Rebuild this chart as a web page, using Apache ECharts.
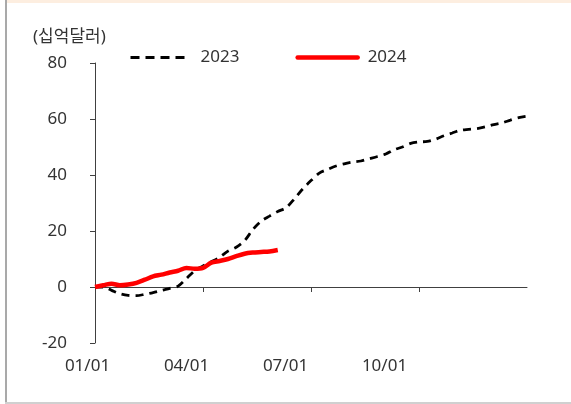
<!DOCTYPE html>
<html>
<head>
<meta charset="utf-8">
<script src="https://cdn.jsdelivr.net/npm/echarts@6/dist/echarts.min.js"></script>
<style>html,body{margin:0;padding:0;background:#fff}#c{width:571px;height:404px}</style>
</head>
<body>
<div id="c"></div>
<script>
// Week index (0..52) from 01/01
var tickWeeks = [0, 13, 26, 39];
var tickLabels = ['01/01', '04/01', '07/01', '10/01'];
var yTicks = [-20, 0, 20, 40, 60, 80];
var unitLabel = '(십억달러)';
var seriesNames = ['2023', '2024'];

var values2023 = [0, 0, -1.2, -2.4, -3.0, -3.1, -2.6, -2.0, -1.2, -0.5, 0.3, 3.0, 5.8, 7.5, 9.0, 10.6, 12.8, 14.2, 16.5, 20.5, 23.5, 25.3, 27.0, 28.3, 31.5, 35.0, 38.0, 40.7, 42.0, 43.2, 44.0, 44.6, 45.0, 45.8, 46.6, 47.5, 49.0, 50.0, 51.3, 51.8, 52.0, 52.8, 54.0, 55.0, 56.0, 56.3, 56.6, 57.2, 58.0, 58.6, 59.6, 60.5, 61.0];
var values2024 = [0, 0.6, 1.2, 0.6, 0.9, 1.5, 2.6, 3.8, 4.4, 5.2, 5.8, 6.8, 6.5, 6.8, 8.7, 9.3, 10.0, 11.0, 11.9, 12.3, 12.5, 12.7, 13.2];

function pairs(arr) { return arr.map(function (v, i) { return [i, v]; }); }

var FONT = '"Noto Sans", "Noto Sans CJK KR", sans-serif';
var chart = echarts.init(document.getElementById('c'), null, {renderer: 'canvas'});
chart.setOption({
  animation: false,
  textStyle: {fontFamily: FONT},
  graphic: [
    {type: 'rect', shape: {x: 7, y: 0, width: 564, height: 3}, style: {fill: '#fdeee0'}, silent: true},
    {type: 'rect', shape: {x: 5, y: 0, width: 2, height: 404}, style: {fill: '#a9a9a9'}, silent: true},
    {type: 'rect', shape: {x: 5, y: 402, width: 566, height: 2}, style: {fill: '#d0d0d0'}, silent: true},
    {type: 'text', left: 33, top: 29, style: {text: unitLabel, fontSize: 17, fill: '#333', fontFamily: FONT}}
  ],
  legend: {
    left: 124, top: 44,
    itemWidth: 60, itemHeight: 14, itemGap: 56,
    itemStyle: {color: 'rgba(0,0,0,0)', borderWidth: 0, opacity: 0},
    textStyle: {fontSize: 17, color: '#333', fontFamily: FONT, padding: [0, 0, 0, 5]},
    data: [
      {name: seriesNames[0], lineStyle: {width: 3, type: [9, 6], color: '#000'}},
      {name: seriesNames[1], lineStyle: {width: 4.5, color: '#ff0000', cap: 'round'}}
    ]
  },
  grid: [
    {left: 95, right: 44, top: 63, bottom: 61},
    {left: 87.5, width: 396, top: 63, bottom: 61}
  ],
  xAxis: [
    {
      type: 'value', gridIndex: 0, min: 0, max: 52, interval: 13,
      axisLine: {show: true, onZero: true, lineStyle: {color: '#404040', width: 1}},
      axisTick: {show: true, length: 5, customValues: tickWeeks, lineStyle: {color: '#404040'}},
      axisLabel: {show: false},
      splitLine: {show: false}
    },
    {
      type: 'value', gridIndex: 1, min: 0, max: 52, interval: 13,
      axisLine: {show: false, onZero: false},
      axisTick: {show: false},
      axisLabel: {
        show: true, margin: 15, fontSize: 17, color: '#333', fontFamily: FONT,
        customValues: tickWeeks,
        formatter: function (v) { var i = tickWeeks.indexOf(v); return i >= 0 ? tickLabels[i] : ''; }
      },
      splitLine: {show: false}
    }
  ],
  yAxis: [
    {
      type: 'value', gridIndex: 0, min: yTicks[0], max: yTicks[yTicks.length - 1], interval: 20,
      axisLine: {show: true, lineStyle: {color: '#404040', width: 1}},
      axisTick: {show: true, length: 5, lineStyle: {color: '#404040'}},
      axisLabel: {margin: 28, fontSize: 17, color: '#333', fontFamily: FONT},
      splitLine: {show: false}
    },
    {type: 'value', gridIndex: 1, min: -20, max: 80, show: false}
  ],
  series: [
    {
      name: seriesNames[0], type: 'line', xAxisIndex: 0, yAxisIndex: 0,
      data: pairs(values2023), symbol: 'none', smooth: 0.3,
      lineStyle: {color: '#000', width: 2.8, type: [8, 6]},
      itemStyle: {color: '#000'}, z: 2
    },
    {
      name: seriesNames[1], type: 'line', xAxisIndex: 0, yAxisIndex: 0,
      data: pairs(values2024), symbol: 'none', smooth: 0.3,
      lineStyle: {color: '#ff0000', width: 4.5},
      itemStyle: {color: '#ff0000'}, z: 3
    }
  ]
});
</script>
</body>
</html>
